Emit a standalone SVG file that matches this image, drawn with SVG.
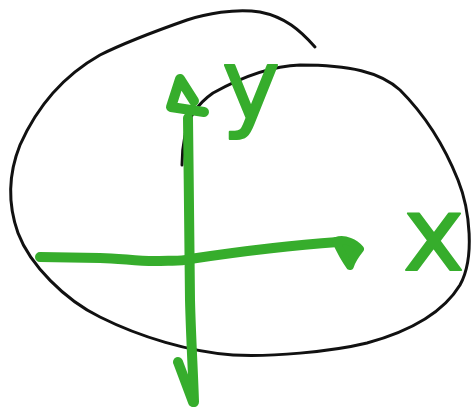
<svg xmlns="http://www.w3.org/2000/svg" width="473" height="408" viewBox="0 0 473 408">
<style>
.ink{fill:none;stroke:#111;stroke-width:3;stroke-linecap:round;stroke-linejoin:round}
.g{fill:none;stroke:#36ad2c;stroke-width:10;stroke-linecap:round;stroke-linejoin:round}
.gf{fill:#36ad2c;stroke:#36ad2c;stroke-width:8;stroke-linejoin:round}
.lbl{font-family:"DejaVu Sans",sans-serif;fill:#36ad2c;stroke:#36ad2c;stroke-width:2;stroke-linejoin:round}
</style>
<rect width="473" height="408" fill="#fff"/>
<g id="outline">
<path class="ink" d="M315,47 C300,30 285,17 260,12 C235,8 205,14 187,20 C150,33 120,45 100,55 C70,72 40,100 20,145 C8,175 8,205 18,233 C30,265 65,300 100,317 C140,337 190,352 233,355 C270,357 330,352 367,343 C400,334 440,318 460,285 C475,258 470,210 458,180 C448,155 430,120 400,90 C380,72 350,65 300,65 C270,66 240,78 213,93 C197,104 187,120 185,135 C182,150 182,160 182,165"/>
</g>
<g id="connectors">
<path id="y-axis" class="g" d="M188,118 C189,180 189,260 190,300 C191,340 193,370 194,402"/>
<path id="y-arrow-bottom" class="g" d="M178,362 L193,402"/>
<path id="x-axis" class="g" d="M40,257 L100,258 C120,258 140,262 160,261 C170,260 178,262 190,259 C230,253 280,246 338,242"/>
<path id="x-arrow" class="gf" d="M336,241 C345,238 355,243 360,249 C356,254 352,259 350,266 C344,258 340,250 336,241 Z"/>
<path id="y-arrow-top" class="g" d="M194,101 L180,79 L171,107 L204,112"/>
</g>
<g id="label-y">
<text class="lbl" x="222" y="119" font-size="98">y</text>
</g>
<g id="label-x">
<text class="lbl" x="403" y="270" font-size="104">x</text>
</g>
</svg>
